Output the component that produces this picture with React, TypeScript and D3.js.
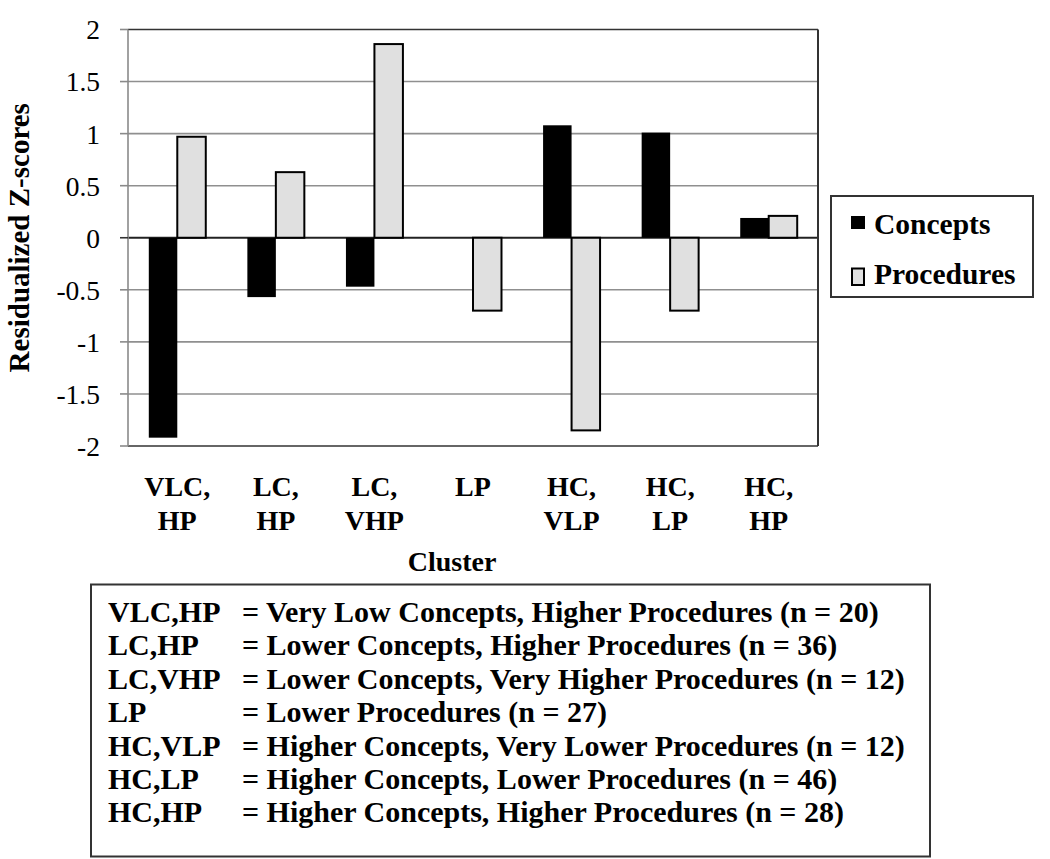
import React, { useEffect } from "react";
import * as d3 from "d3";

const categories = ["VLC,HP", "LC,HP", "LC,VHP", "LP", "HC,VLP", "HC,LP", "HC,HP"];
const categoryLabelLines = [
  ["VLC,", "HP"],
  ["LC,", "HP"],
  ["LC,", "VHP"],
  ["LP"],
  ["HC,", "VLP"],
  ["HC,", "LP"],
  ["HC,", "HP"],
];
const seriesNames = ["Concepts", "Procedures"];
const conceptsValues = [-1.92, -0.57, -0.47, 0, 1.08, 1.01, 0.19];
const proceduresValues = [0.97, 0.63, 1.86, -0.7, -1.85, -0.7, 0.21];
const yTicks = [2, 1.5, 1, 0.5, 0, -0.5, -1, -1.5, -2];
const yTickLabels = ["2", "1.5", "1", "0.5", "0", "-0.5", "-1", "-1.5", "-2"];
const keyAbbrevs = ["VLC,HP", "LC,HP", "LC,VHP", "LP", "HC,VLP", "HC,LP", "HC,HP"];
const keyDefinitions = [
  "= Very Low Concepts, Higher Procedures (n = 20)",
  "= Lower Concepts, Higher Procedures (n = 36)",
  "= Lower Concepts, Very Higher Procedures (n = 12)",
  "= Lower Procedures (n = 27)",
  "= Higher Concepts, Very Lower Procedures (n = 12)",
  "= Higher Concepts, Lower Procedures (n = 46)",
  "= Higher Concepts, Higher Procedures (n = 28)",
];

const FONT = "'Liberation Serif', 'Times New Roman', serif";

export default function App() {
  useEffect(() => {
    document.body.style.margin = "0";
  }, []);

  const W = 1050;
  const H = 859;
  const left = 128;
  const right = 818;
  const top = 29.5;
  const bottom = 446;

  const x0 = d3.scaleBand<string>().domain(categories).range([left, right]).padding(0);
  const x1 = d3
    .scaleBand<string>()
    .domain(seriesNames)
    .range([0, x0.bandwidth()])
    .paddingInner(0)
    .paddingOuter(0.73);
  const y = d3.scaleLinear().domain([-2, 2]).range([bottom, top]);

  const rows = categories.map((c, i) => ({
    cat: c,
    values: [conceptsValues[i], proceduresValues[i]],
  }));

  const txt = { fontFamily: FONT };

  return (
    <svg
      width={W}
      height={H}
      style={{ position: "absolute", left: 0, top: 0, background: "#fff", fontFamily: FONT }}
    >
      <rect x={0} y={0} width={W} height={H} fill="#fff" />
      {yTicks.map((t) => (
        <line
          key={"g" + t}
          x1={left}
          x2={right}
          y1={y(t)}
          y2={y(t)}
          stroke={t === 0 ? "#222" : Math.abs(t) === 2 ? "#333" : "#8f8f8f"}
          strokeWidth={t === 0 ? 2 : 1.6}
        />
      ))}
      <line x1={right} x2={right} y1={top} y2={bottom} stroke="#333" strokeWidth={2} />
      <line x1={left} x2={left} y1={top} y2={bottom} stroke="#8a8a8a" strokeWidth={1.6} />
      {yTicks.map((t, i) => (
        <g key={"t" + t}>
          <line
            x1={left - 8}
            x2={left}
            y1={y(t)}
            y2={y(t)}
            stroke={t === 0 ? "#333" : "#8a8a8a"}
            strokeWidth={1.6}
          />
          <text x={100} y={y(t)} dy="0.36em" textAnchor="end" fontSize={27.5} fill="#000" style={txt}>
            {yTickLabels[i]}
          </text>
        </g>
      ))}
      {rows.map((r) => (
        <g key={r.cat} transform={`translate(${x0(r.cat)},0)`}>
          {r.values.map((v, j) => {
            const s = seriesNames[j];
            if (v === 0) return null;
            const yy = Math.min(y(v), y(0));
            const hh = Math.abs(y(v) - y(0));
            return j === 0 ? (
              <rect key={s} x={x1(s)} y={yy} width={x1.bandwidth()} height={hh} fill="#000" />
            ) : (
              <rect
                key={s}
                x={x1(s)}
                y={yy}
                width={x1.bandwidth()}
                height={hh}
                fill="#e0e0e0"
                stroke="#000"
                strokeWidth={2}
              />
            );
          })}
        </g>
      ))}
      {categories.map((c, i) => (
        <text
          key={"l" + c}
          x={(x0(c) as number) + x0.bandwidth() / 2}
          y={495.5}
          textAnchor="middle"
          fontSize={28}
          fontWeight="bold"
          style={txt}
        >
          {categoryLabelLines[i].map((ln, k) => (
            <tspan key={k} x={(x0(c) as number) + x0.bandwidth() / 2} dy={k === 0 ? 0 : 34.3}>
              {ln}
            </tspan>
          ))}
        </text>
      ))}
      <text x={452} y={571} textAnchor="middle" fontSize={28} fontWeight="bold" style={txt}>
        Cluster
      </text>
      <text
        transform={`translate(29,${(top + bottom) / 2}) rotate(-90)`}
        textAnchor="middle"
        fontSize={29}
        fontWeight="bold"
        style={txt}
      >
        Residualized Z-scores
      </text>
      <rect x={831} y={196} width={202} height={101} fill="#fff" stroke="#333" strokeWidth={2} />
      <rect x={851} y={216} width={14} height={13} fill="#000" />
      <text x={874} y={234.3} fontSize={29.5} fontWeight="bold" style={txt}>
        {seriesNames[0]}
      </text>
      <rect x={852} y={268.5} width={12} height={16.5} fill="#e0e0e0" stroke="#000" strokeWidth={2} />
      <text x={874} y={284.3} fontSize={29.5} fontWeight="bold" style={txt}>
        {seriesNames[1]}
      </text>
      <rect x={91} y={584.5} width={839} height={272} fill="#fff" stroke="#333" strokeWidth={2} />
      {keyAbbrevs.map((a, i) => (
        <g key={"k" + a}>
          <text x={108} y={622 + i * 33.4} fontSize={30} fontWeight="bold" style={txt}>
            {a}
          </text>
          <text x={242} y={622 + i * 33.4} fontSize={30} fontWeight="bold" style={txt}>
            {keyDefinitions[i]}
          </text>
        </g>
      ))}
    </svg>
  );
}
